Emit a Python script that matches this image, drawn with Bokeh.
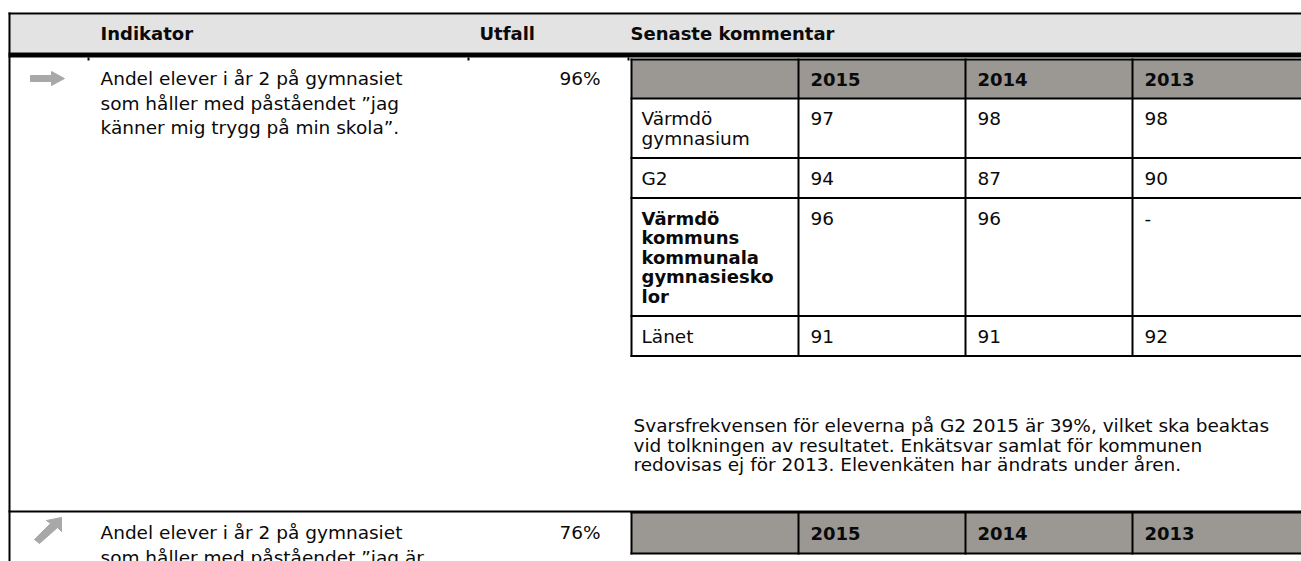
from bokeh.plotting import figure
from bokeh.models import Range1d, ColumnDataSource
from bokeh.embed import file_html
from bokeh.resources import INLINE
from bokeh.core.properties import value

# ---------------- data ----------------
header_labels = ["Indikator", "Utfall", "Senaste kommentar"]
years = ["2015", "2014", "2013"]
row_labels = [["Värmdö", "gymnasium"], ["G2"],
              ["Värmdö", "kommuns", "kommunala", "gymnasiesko", "lor"], ["Länet"]]
row_bold = [False, False, True, False]
v2015 = [97, 94, 96, 91]
v2014 = [98, 87, 96, 91]
v2013 = [98, 90, None, 92]
indicator1 = ["Andel elever i år 2 på gymnasiet",
              "som håller med påståendet ”jag",
              "känner mig trygg på min skola”."]
outcome1 = "96%"
trend1 = "flat"
comment1 = ["Svarsfrekvensen för eleverna på G2 2015 är 39%, vilket ska beaktas",
            "vid tolkningen av resultatet. Enkätsvar samlat för kommunen",
            "redovisas ej för 2013. Elevenkäten har ändrats under åren."]
indicator2 = ["Andel elever i år 2 på gymnasiet",
              "som håller med påståendet ”jag är"]
outcome2 = "76%"
trend2 = "up"

# ---------------- style / layout ----------------
FONT = value("DejaVu Sans")
FS = "18.5px"
FSB = "18px"
TXT = "#0a0a0a"
HDR_BG = "#e3e3e3"
TBL_HDR_BG = "#9b9792"
ICON = "#a8a8a8"

W, H = 1301, 561
p = figure(width=W, height=H, x_range=Range1d(0, W), y_range=Range1d(H, 0),
           output_backend="svg", toolbar_location=None, min_border=0,
           min_border_left=0, min_border_right=0, min_border_top=0, min_border_bottom=0)
p.axis.visible = False
p.grid.visible = False
p.outline_line_color = None
p.background_fill_color = "white"
p.border_fill_color = "white"

RIGHT = 1301
quads = dict(l=[], r=[], t=[], b=[], c=[])


def box(l, r, t, b, c="black"):
    quads["l"].append(l); quads["r"].append(r); quads["t"].append(t); quads["b"].append(b); quads["c"].append(c)


texts = dict(x=[], y=[], t=[], align=[], bold=[])


def txt(x, y, t, align="left", bold=False):
    texts["x"].append(x); texts["y"].append(y); texts["t"].append(t)
    texts["align"].append(align); texts["bold"].append(bold)


# outer header
box(8, RIGHT, 14, 52, HDR_BG)
box(8, RIGHT, 12, 14)            # top border
box(8, RIGHT, 52, 57)            # thick header bottom
box(8, 10, 12, H + 2)            # left border
for cx in [87, 467, 627]:
    box(cx, cx + 2, 57, 60)
hdr_x = [100, 479, 630]
for x, lab in zip(hdr_x, header_labels):
    txt(x, 33, lab, bold=True)

# inner table geometry
COLS = [631, 798, 965, 1132, RIGHT + 2]
LINE = 19.5
PADC = 20
PADX = 12


def inner_table(top, hdr_h, rows=True):
    hb = top + hdr_h
    box(COLS[0], COLS[-1], top, hb, TBL_HDR_BG)
    for i, yv in enumerate(years):
        txt(COLS[i + 1] + PADX, top + hdr_h / 2, yv, bold=True)
    ys = [top, hb]
    if rows:
        y = hb
        for lab, bold, a, b_, c in zip(row_labels, row_bold, v2015, v2014, v2013):
            n = len(lab)
            for k, s in enumerate(lab):
                txt(COLS[0] + PADX - 2, y + PADC + k * LINE, s, bold=bold)
            for j, v in enumerate([a, b_, c]):
                txt(COLS[j + 1] + PADX, y + PADC, "-" if v is None else str(v))
            y = y + 2 * PADC + LINE * (n - 1)
            ys.append(y)
    for yy in ys:
        box(COLS[0] - 1, COLS[-1], yy - 1, yy + 1)
    for cx in COLS[:-1]:
        box(cx - 1, cx + 1, top - 1, ys[-1] + 1)
    return ys[-1]


icons = []


def icon(kind, cx, cy):
    if kind == "flat":
        xs = [cx - 17, cx + 4, cx + 4, cx + 17, cx + 4, cx + 4, cx - 17]
        ys = [cy - 3, cy - 3, cy - 7, cy, cy + 7, cy + 3, cy + 3]
    else:
        xs = [cx - 13, cx + 3, cx - 1, cx + 14, cx + 14, cx + 10, cx - 8]
        ys = [cy + 9, cy - 7, cy - 10, cy - 13, cy + 1, cy - 3, cy + 13]
    icons.append((xs, ys))


# row 1
for k, s in enumerate(indicator1):
    txt(100, 78 + k * 24.5, s)
txt(600, 78, outcome1, align="right")
icon(trend1, 47, 78)
bottom1 = inner_table(59, 39)
for k, s in enumerate(comment1):
    txt(633, 425 + k * 19.5, s)

# row separator + row 2
box(8, RIGHT, 510, 512)
for k, s in enumerate(indicator2):
    txt(100, 532 + k * 24.5, s)
txt(600, 532, outcome2, align="right")
icon(trend2, 47, 530)
inner_table(512, 41, rows=False)

src = ColumnDataSource(dict(left=quads["l"], right=quads["r"], top=quads["t"],
                            bottom=quads["b"], color=quads["c"]))
p.quad(left="left", right="right", top="top", bottom="bottom", source=src,
       fill_color="color", line_color=None)

p.patches(xs=[i[0] for i in icons], ys=[i[1] for i in icons],
          fill_color=ICON, line_color=ICON, line_width=1)

for bold in [False, True]:
    for al in ["left", "right"]:
        idx = [i for i in range(len(texts["t"])) if texts["bold"][i] == bold and texts["align"][i] == al]
        if not idx:
            continue
        s = ColumnDataSource(dict(x=[texts["x"][i] for i in idx], y=[texts["y"][i] for i in idx],
                                  text=[texts["t"][i] for i in idx]))
        p.text(x="x", y="y", text="text", source=s, text_font=FONT,
               text_font_size=FSB if bold else FS,
               text_baseline="middle", text_align=al, text_color=TXT,
               text_font_style="bold" if bold else "normal")

open("out.html", "w").write(file_html(p, INLINE))
